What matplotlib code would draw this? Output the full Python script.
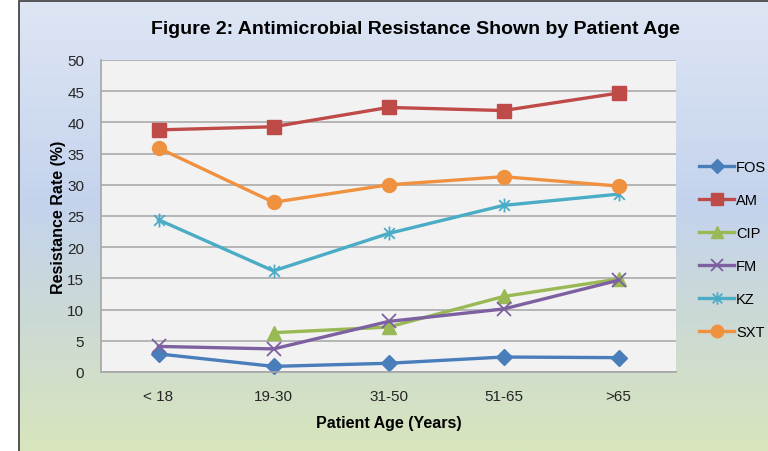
"""Line chart: antimicrobial resistance by patient age."""

import numpy as np
import matplotlib
import matplotlib.pyplot as plt
from matplotlib.colors import LinearSegmentedColormap
from matplotlib.patches import Rectangle
from matplotlib.path import Path

matplotlib.use("Agg")

plt.rcParams["font.family"] = ["Liberation Sans", "DejaVu Sans"]

# data
age_groups = ["< 18", "19-30", "31-50", "51-65", ">65"]
fos = [2.9, 0.9, 1.4, 2.4, 2.3]
am = [38.8, 39.3, 42.4, 41.9, 44.7]
cip = [np.nan, 6.3, 7.2, 12.1, 14.9]
fm = [4.1, 3.7, 8.1, 10.1, 14.7]
kz = [24.4, 16.2, 22.2, 26.7, 28.5]
sxt = [35.9, 27.2, 30.0, 31.3, 29.8]

series_names = ["FOS", "AM", "CIP", "FM", "KZ", "SXT"]

# Excel-style asterisk marker (x with a vertical bar)
M, L = Path.MOVETO, Path.LINETO
asterisk = Path(
    [(-1, -1), (1, 1), (-1, 1), (1, -1), (0, -1.3), (0, 1.3)],
    [M, L, M, L, M, L],
)

styles = {
    "FOS": dict(color="#4A7EBB", marker="D", ms=8),
    "AM": dict(color="#BE4B48", marker="s", ms=9.5),
    "CIP": dict(color="#98B954", marker="^", ms=10),
    "FM": dict(color="#7D60A0", marker="x", ms=10, mew=1.3),
    "KZ": dict(color="#4BACC6", marker=asterisk, ms=10, mew=1.3, mfc="none"),
    "SXT": dict(color="#F0913F", marker="o", ms=10),
}

fig = plt.figure(figsize=(7.68, 4.52), dpi=100)

# gradient chart background with frame
bg = fig.add_axes([19 / 768, 0, 1 - 19 / 768, 1 - 2 / 452])
grad = LinearSegmentedColormap.from_list(
    "bg",
    [(0.0, "#DEE6F4"), (0.45, "#C4D3ED"), (0.72, "#CCDAD4"), (1.0, "#D8E5BC")],
)
bg.imshow(np.linspace(0, 1, 256).reshape(-1, 1), aspect="auto", cmap=grad,
          extent=[0, 1, 0, 1], origin="upper")
bg.set_xlim(0, 1)
bg.set_ylim(0, 1)
bg.axis("off")
fig.patches.append(Rectangle((19 / 768, -0.01), 1.0, 1 - 2 / 452 + 0.01,
                             transform=fig.transFigure, fill=False,
                             edgecolor="#3A3A3A", linewidth=1.2))

ax = fig.add_axes([101 / 768, 1 - 373 / 452, 575 / 768, 312 / 452])
ax.set_facecolor("#F2F2F2")

x = np.arange(len(age_groups))
data = dict(FOS=fos, AM=am, CIP=cip, FM=fm, KZ=kz, SXT=sxt)
for name in series_names:
    st = styles[name]
    ax.plot(x, data[name], color=st["color"], linewidth=2.4,
            marker=st["marker"], markersize=st["ms"],
            markeredgewidth=st.get("mew", 1.0),
            markerfacecolor=st.get("mfc", st["color"]),
            markeredgecolor=st["color"], label=name, clip_on=False,
            solid_joinstyle="round")

ax.set_xlim(-0.5, 4.5)
ax.set_ylim(0, 50)
ax.set_yticks(np.arange(0, 51, 5))
ax.set_xticks(x)
ax.set_xticklabels(age_groups)
ax.yaxis.grid(True, color="#ABABAB", linewidth=1.2)
ax.set_axisbelow(True)
ax.tick_params(axis="both", length=0, labelsize=11, colors="#262626")
ax.tick_params(axis="y", pad=12)
ax.tick_params(axis="x", pad=12)
for side in ["top", "right"]:
    ax.spines[side].set_visible(False)
for side in ["left", "bottom"]:
    ax.spines[side].set_color("#A6A6A6")
    ax.spines[side].set_linewidth(1.2)

ax.set_xlabel("Patient Age (Years)", fontsize=11.5, fontweight="bold", labelpad=9)
ax.set_ylabel("Resistance Rate (%)", fontsize=11.5, fontweight="bold", labelpad=1)

fig.text(415 / 768, 1 - 29 / 452,
         "Figure 2: Antimicrobial Resistance Shown by Patient Age",
         ha="center", va="center", fontsize=14, fontweight="bold")

# legend sits at the right edge, outside the plot area
handles, labels = ax.get_legend_handles_labels()
fig.legend(handles, labels, loc="upper left",
           bbox_to_anchor=(699 / 768, 1 - 161.5 / 452),
           frameon=False, fontsize=10.5, handlelength=2.4, handletextpad=0.15,
           labelspacing=1.3, borderpad=0, borderaxespad=0, markerscale=0.9)

fig.savefig("out.png", dpi=100)
plt.close(fig)
